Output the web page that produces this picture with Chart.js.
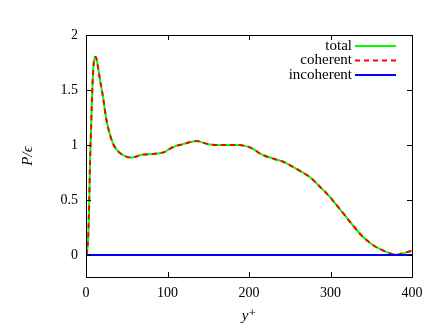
<!DOCTYPE html>
<html>
<head>
<meta charset="utf-8">
<script src="https://cdn.jsdelivr.net/npm/chart.js@4"></script>
<style>
  html, body { margin: 0; padding: 0; background: #fff; }
  #wrap { width: 436px; height: 325px; }
</style>
</head>
<body>
<div id="wrap"><canvas id="myChart" width="436" height="325"></canvas></div>
<script>
// data
const yPlus = [0, 1, 2, 3, 4, 5, 6, 7, 8, 9, 10, 11, 12, 14, 17, 21, 25, 30, 34, 38, 42, 46, 51, 56, 62, 68, 75, 82, 90, 96, 102, 110, 118, 127, 136, 144, 152, 165, 176, 188, 196, 201, 207, 213, 220, 226, 232, 238, 242, 250, 262, 275, 287, 299, 308, 318, 328, 340, 352, 365, 375, 380, 385, 393, 400];
const total = [0, 0.02, 0.08, 0.22, 0.5, 0.86, 1.1, 1.35, 1.55, 1.7, 1.77, 1.8, 1.8, 1.74, 1.6, 1.43, 1.23, 1.08, 1.0, 0.955, 0.925, 0.905, 0.89, 0.887, 0.895, 0.912, 0.915, 0.918, 0.925, 0.935, 0.963, 0.99, 1.005, 1.025, 1.036, 1.02, 1.005, 1.0, 1.0, 1.0, 0.99, 0.979, 0.955, 0.924, 0.9, 0.886, 0.87, 0.858, 0.848, 0.818, 0.767, 0.706, 0.621, 0.53, 0.448, 0.357, 0.265, 0.163, 0.091, 0.039, 0.009, 0.003, 0.008, 0.024, 0.039];
const coherent = [0, 0.02, 0.08, 0.22, 0.5, 0.86, 1.1, 1.35, 1.55, 1.7, 1.77, 1.8, 1.8, 1.74, 1.6, 1.43, 1.23, 1.08, 1.0, 0.955, 0.925, 0.905, 0.89, 0.887, 0.895, 0.912, 0.915, 0.918, 0.925, 0.935, 0.963, 0.99, 1.005, 1.025, 1.036, 1.02, 1.005, 1.0, 1.0, 1.0, 0.99, 0.979, 0.955, 0.924, 0.9, 0.886, 0.87, 0.858, 0.848, 0.818, 0.767, 0.706, 0.621, 0.53, 0.448, 0.357, 0.265, 0.163, 0.091, 0.039, 0.009, 0.003, 0.008, 0.024, 0.039];
const incoherentX = [0, 100, 200, 300, 400];
const incoherent = [0, 0, 0, 0, 0];
const xTicks = [0, 100, 200, 300, 400];
const yTicks = [0, 0.5, 1, 1.5, 2];

const serif = '"Liberation Serif", "DejaVu Serif", serif';

const pts = (xs, ys) => xs.map((x, i) => ({ x: x, y: ys[i] }));

// frame, inward ticks, axis titles, legend (text left of sample like gnuplot)
const framePlugin = {
  id: 'frame',
  afterDraw(chart) {
    const c = chart.ctx, a = chart.chartArea;
    const sx = chart.scales.x, sy = chart.scales.y;
    c.save();
    c.strokeStyle = '#000';
    c.lineWidth = 1;
    c.strokeRect(Math.round(a.left) + 0.5, Math.round(a.top) + 0.5, Math.round(a.right - a.left), Math.round(a.bottom - a.top));
    c.beginPath();
    xTicks.forEach(v => {
      const px = Math.round(sx.getPixelForValue(v)) + 0.5;
      c.moveTo(px, a.bottom); c.lineTo(px, a.bottom - 5);
      c.moveTo(px, a.top); c.lineTo(px, a.top + 5);
    });
    yTicks.forEach(v => {
      const py = Math.round(sy.getPixelForValue(v)) + 0.5;
      c.moveTo(a.left, py); c.lineTo(a.left + 5, py);
      c.moveTo(a.right, py); c.lineTo(a.right - 5, py);
    });
    c.stroke();

    c.fillStyle = '#000';
    c.font = 'italic 15px ' + serif;
    c.textAlign = 'center';
    c.textBaseline = 'middle';
    c.fillText('y⁺', (a.left + a.right) / 2, 316);
    c.save();
    c.translate(28, (a.top + a.bottom) / 2);
    c.rotate(-Math.PI / 2);
    c.fillText('P/ϵ', 0, 0);
    c.restore();

    c.font = '15px ' + serif;
    c.textAlign = 'right';
    chart.data.datasets.forEach((ds, i) => {
      const y = 46 + i * 14.5;
      c.fillStyle = '#000';
      c.fillText(ds.label, 352, y);
      c.beginPath();
      c.strokeStyle = ds.borderColor;
      c.lineWidth = ds.borderWidth;
      c.setLineDash(ds.borderDash || []);
      c.moveTo(355, y); c.lineTo(396, y);
      c.stroke();
      c.setLineDash([]);
    });
    c.restore();
  }
};

new Chart(document.getElementById('myChart'), {
  type: 'line',
  data: {
    datasets: [
      { label: 'total', data: pts(yPlus, total), borderColor: '#00ff00', borderWidth: 2, order: 3 },
      { label: 'coherent', data: pts(yPlus, coherent), borderColor: '#ff0000', borderWidth: 2, borderDash: [5, 4], order: 2 },
      { label: 'incoherent', data: pts(incoherentX, incoherent), borderColor: '#0000ff', borderWidth: 2, order: 1 }
    ]
  },
  options: {
    responsive: false,
    animation: false,
    layout: { padding: { left: 0, right: 24, top: 35, bottom: 0 } },
    elements: {
      point: { radius: 0 },
      line: { cubicInterpolationMode: 'monotone', fill: false }
    },
    plugins: { legend: { display: false }, tooltip: { enabled: false } },
    scales: {
      x: {
        type: 'linear', min: 0, max: 400,
        afterBuildTicks: s => { s.ticks = xTicks.map(v => ({ value: v })); },
        afterFit: s => { s.height = 48; },
        grid: { display: false, drawTicks: false },
        border: { display: false },
        ticks: { color: '#000', padding: 8, maxRotation: 0, font: { family: serif, size: 14 }, callback: v => String(v) }
      },
      y: {
        type: 'linear', min: -0.2, max: 2,
        afterBuildTicks: s => { s.ticks = yTicks.map(v => ({ value: v })); },
        afterFit: s => { s.width = 86; },
        grid: { display: false, drawTicks: false },
        border: { display: false },
        ticks: { color: '#000', padding: 8, font: { family: serif, size: 14 }, callback: v => String(v) }
      }
    }
  },
  plugins: [framePlugin]
});
</script>
</body>
</html>
